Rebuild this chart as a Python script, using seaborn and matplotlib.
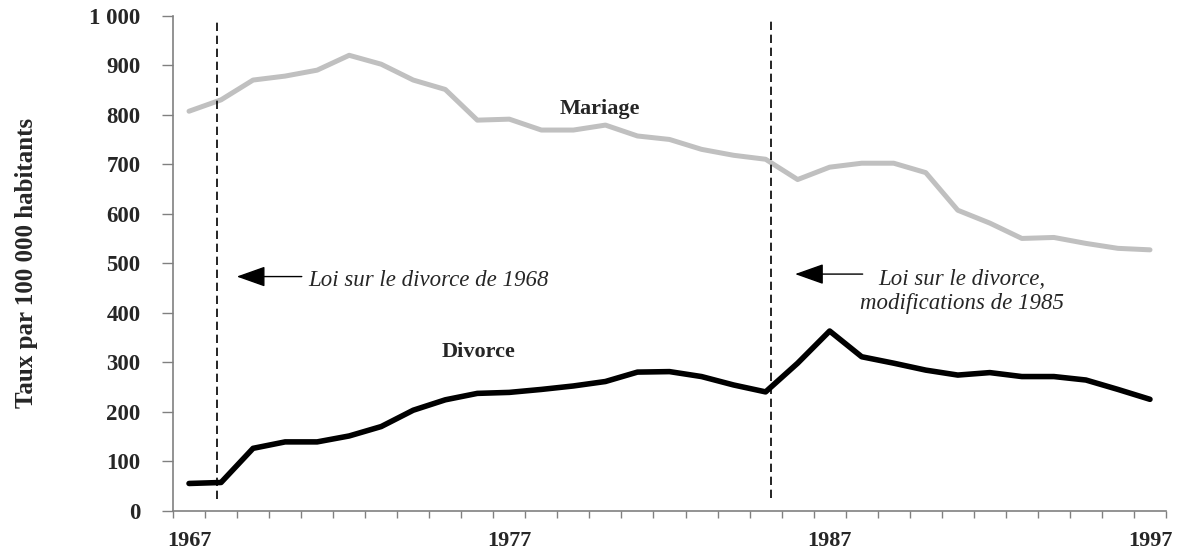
import matplotlib
matplotlib.use("Agg")
import matplotlib.pyplot as plt
import numpy as np
import pandas as pd
import seaborn as sns

# taux annuels par 100 000 habitants
years = list(range(1967, 1998))
mariage = [807, 830, 870, 878, 890, 920, 902, 870, 851, 789, 791, 769, 769, 779, 757,
           750, 730, 718, 710, 669, 694, 702, 702, 683, 607, 581, 550, 552, 540, 530, 527]
divorce = [55, 57, 126, 139, 139, 151, 170, 203, 224, 237, 239, 245, 252, 261, 280,
           281, 271, 254, 240, 298, 363, 311, 298, 284, 274, 279, 271, 271, 264, 245, 225]

year_labels = [1967, 1977, 1987, 1997]
y_ticks = list(range(0, 1001, 100))
y_tick_labels = ["0", "100", "200", "300", "400", "500", "600", "700", "800", "900", "1 000"]

# repères des lois (position sur l'axe des années)
law_x = [1967.88, 1985.16]
law_text = ["Loi sur le divorce de 1968", "Loi sur le divorce,\nmodifications de 1985"]

sns.set_theme(style="white")
plt.rcParams["font.family"] = ["Liberation Serif", "DejaVu Serif"]

df = pd.DataFrame({"annee": years, "Mariage": mariage, "Divorce": divorce})

W, H = 1183, 554
fig = plt.figure(figsize=(W / 100, H / 100), dpi=100)
ax = fig.add_axes([173 / W, 1 - 510.7 / H, 993 / W, 495 / H])

sns.lineplot(data=df, x="annee", y="Mariage", color="#c0c0c0", linewidth=3.6, ax=ax)
sns.lineplot(data=df, x="annee", y="Divorce", color="black", linewidth=4.0, ax=ax)

for i, x in enumerate(law_x):
    ax.plot([x, x], [23 if i == 0 else 26, 991], color="black", linewidth=1.2,
            linestyle=(0, (5, 2.8)))

ax.set_xlim(1966.5, 1997.5)
ax.set_ylim(0, 1000)
ax.set_xticks(year_labels)
ax.set_xticklabels([str(y) for y in year_labels], fontsize=16, fontweight="bold")
ax.set_xticks(np.arange(1966.5, 1998, 1), minor=True)
ax.set_yticks(y_ticks)
ax.set_yticklabels(y_tick_labels, fontsize=16.5, fontweight="bold")
ax.tick_params(axis="x", which="major", length=0, pad=14.5)
ax.tick_params(axis="x", which="minor", length=5, width=1, color="#808080", direction="out", bottom=True)
ax.tick_params(axis="y", length=7.9, width=1, color="#808080", direction="out", pad=15.5, left=True)

for side in ["top", "right"]:
    ax.spines[side].set_visible(False)
for side in ["left", "bottom"]:
    ax.spines[side].set_color("#808080")
    ax.spines[side].set_linewidth(1.2)

ax.set_xlabel("")
ax.set_ylabel("Taux par 100 000 habitants", fontsize=18, fontweight="bold")
ax.yaxis.set_label_coords(-0.136, 0.5)

ax.text(1979.83, 801, "Mariage", fontsize=16, fontweight="bold", ha="center", va="baseline")
ax.text(1976.05, 310, "Divorce", fontsize=16, fontweight="bold", ha="center", va="baseline")

arrow = dict(arrowstyle="-|>,head_length=18,head_width=6.4", color="black",
             linewidth=1, mutation_scale=1, shrinkA=0, shrinkB=0)
ax.annotate("", xy=(1968.49, 473), xytext=(1970.52, 473), arrowprops=arrow)
ax.annotate("", xy=(1985.92, 478), xytext=(1988.03, 478), arrowprops=arrow)
ax.text(1970.71, 454, law_text[0], fontsize=16.5, style="italic", ha="left", va="baseline")
ax.text(1987.95, 407, law_text[1], fontsize=16.5, style="italic", ha="left",
        va="baseline", multialignment="center", linespacing=1.2)

fig.savefig("out.png", dpi=100)
